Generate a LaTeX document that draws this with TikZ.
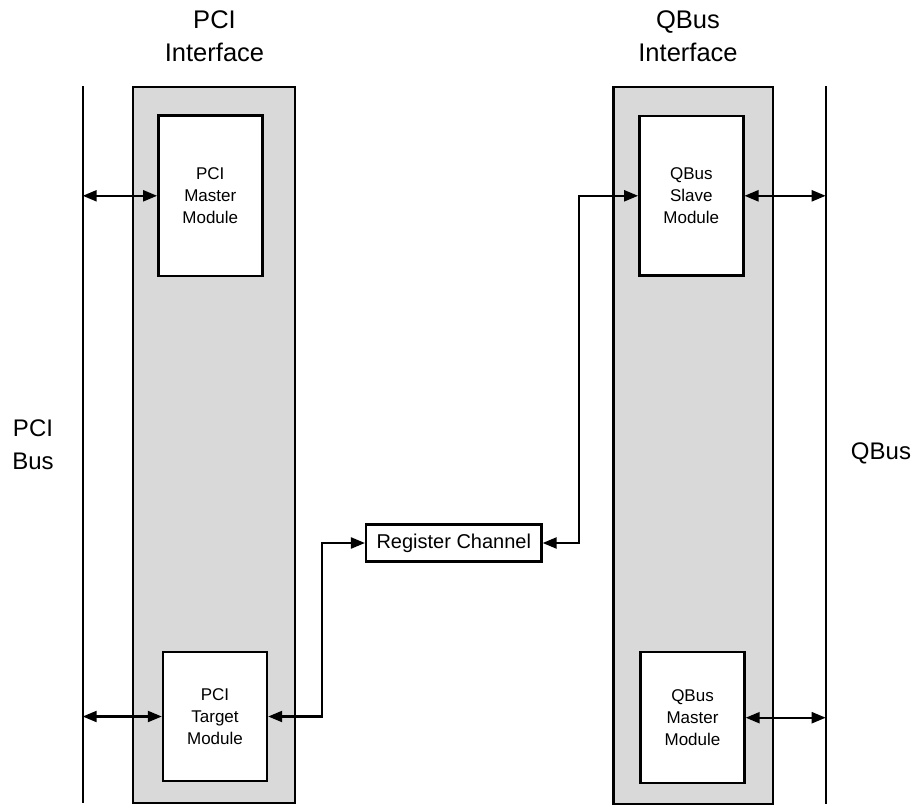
\documentclass[tikz,border=0pt]{standalone}
\usepackage{fontspec}
\setmainfont{Liberation Sans}
\usetikzlibrary{arrows.meta}
\tikzset{modbox/.style={draw, line width=2.4pt, fill=white, minimum width=104pt, align=center, inner sep=0pt, font=\fontsize{17}{22}\selectfont},
  iface/.style={draw, line width=2.4pt, fill=gray!30},
  bus/.style={line width=2.4pt},
  link/.style={line width=2.2pt, {Triangle[length=14pt,width=11pt]}-{Triangle[length=14pt,width=11pt]}},
  lbl/.style={align=center, inner sep=0pt}}

\begin{document}
\begin{tikzpicture}[x=1pt,y=-1pt]
                \useasboundingbox (0,0) rectangle (918,808);
                % interfaces
                \draw[iface] (132.7,87) rectangle (295,803);
                \draw[iface] (613.3,87) rectangle (772.7,804);
                % buses
                \coordinate (pcitop) at (82.7,86);
                \coordinate (pcibot) at (82.7,803);
                \coordinate (qbtop) at (825.7,86);
                \coordinate (qbbot) at (825.7,804);
                \draw[bus] (pcitop) -- (pcibot);
                \draw[bus] (qbtop) -- (qbbot);
                % modules
                \node[modbox, minimum height=160.6pt] (pm) at (210.3,195.8) {PCI\\Master\\Module};
                \node[modbox, minimum height=129.2pt] (pt) at (215,716.5) {PCI\\Target\\Module};
                \node[modbox, minimum height=159.3pt] (qs) at (691.3,195.8) {QBus\\Slave\\Module};
                \node[modbox, minimum height=130.9pt] (qm) at (692.5,717.7) {QBus\\Master\\Module};
                \node[draw, line width=2.4pt, fill=white, minimum width=175.3pt, minimum height=37pt, inner sep=0pt, font=\fontsize{20}{24}\selectfont] (rc) at (453.8,543) {Register Channel};
                % labels
                \node[lbl, font=\fontsize{25.5}{33}\selectfont] (pcii) at (214.5,36) {PCI\\Interface};
                \node[lbl, font=\fontsize{25.5}{33}\selectfont] (qbi) at (688,36) {QBus\\Interface};
                \node[lbl, font=\fontsize{24}{33}\selectfont] (pcib) at (33,445) {PCI\\Bus};
                \node[lbl, font=\fontsize{24}{29}\selectfont] (qb) at (881,453) {QBus};
                % links
                \draw[link] (pcitop |- pm.west) -- (pm.west);
                \draw[link] (pcitop |- pt.west) -- (pt.west);
                \draw[link] (qs.east) -- (qbtop |- qs.east);
                \draw[link] (qm.east) -- (qbtop |- qm.east);
                \draw[link] (pt.east) -- ++(53.4,0) |- (rc.west);
                \draw[link] (rc.east) -- ++(36.6,0) |- (qs.west);
            \end{tikzpicture}
\end{document}
